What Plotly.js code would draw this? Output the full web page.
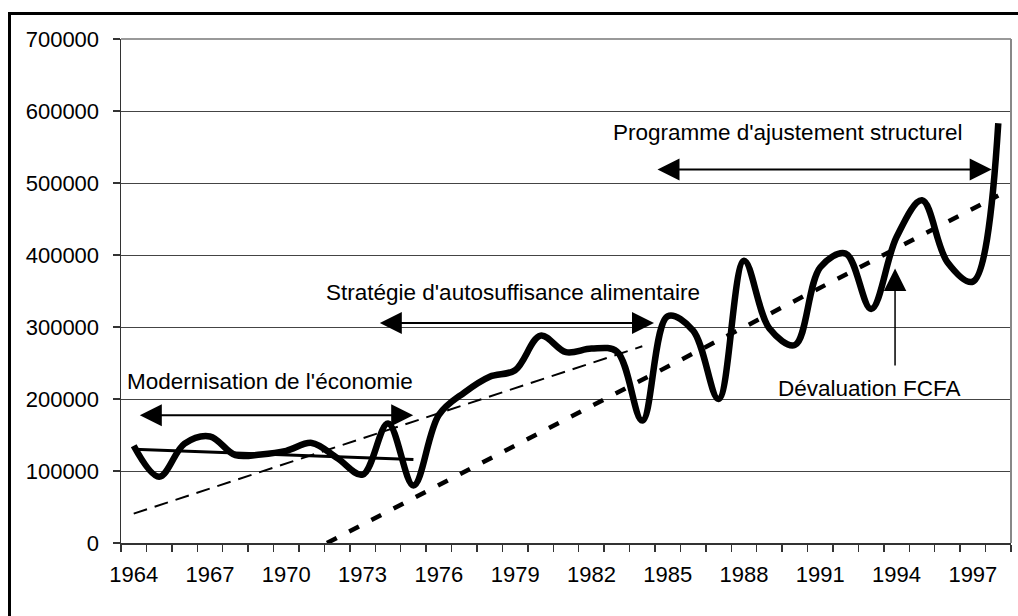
<!DOCTYPE html>
<html>
<head>
<meta charset="utf-8">
<script src="https://cdn.plot.ly/plotly-3.0.1.min.js"></script>
<style>
  html, body { margin: 0; padding: 0; background: #fff; overflow: hidden; }
  #wrap { position: relative; width: 1018px; height: 616px; }
  #chart { position: absolute; left: 0; top: 0; width: 1018px; height: 616px; }
  #frame { position: absolute; left: 8px; top: 12px; width: 1100px; height: 700px;
           border-left: 3px solid #000; border-top: 3px solid #000; pointer-events: none; }
</style>
</head>
<body>
<div id="wrap">
  <div id="chart"></div>
  <div id="frame"></div>
</div>
<script>
// ---- data ----
const years = [1964,1965,1966,1967,1968,1969,1970,1971,1972,1973,1974,1975,1976,1977,1978,1979,1980,1981,
               1982,1983,1984,1985,1986,1987,1988,1989,1990,1991,1992,1993,1994,1995,1996,1997,1998];
const production = [135000,92000,138000,148000,122000,123000,128000,139000,118000,95000,166000,80000,178000,209000,
                    231000,240000,288000,265000,270000,266000,170000,315000,295000,200000,392000,298000,275000,
                    383000,402000,325000,425000,476000,390000,363000,583000];

// trend lines (end points)
const trendModernYears = [1964, 1975];
const trendModernValues = [130100, 115800];
const trendAutoYears = [1964, 1984];
const trendAutoValues = [40800, 273200];
const trendPasYears = [1971.6, 1998];
const trendPasValues = [0, 482600];

const yTicks = [0,100000,200000,300000,400000,500000,600000,700000];
const xLabelYears = [1964,1967,1970,1973,1976,1979,1982,1985,1988,1991,1994,1997];

const FONT = '"Liberation Sans", Arial, Helvetica, sans-serif';

const traces = [
  { x: trendModernYears, y: trendModernValues, mode: 'lines',
    line: { color: '#000', width: 3 }, hoverinfo: 'skip' },
  { x: trendAutoYears, y: trendAutoValues, mode: 'lines',
    line: { color: '#000', width: 2, dash: '14px,8px' }, hoverinfo: 'skip' },
  { x: trendPasYears, y: trendPasValues, mode: 'lines',
    line: { color: '#000', width: 4.5, dash: '11px,14px' }, hoverinfo: 'skip' },
  { x: years, y: production, mode: 'lines',
    line: { color: '#000', width: 6.5, shape: 'spline', smoothing: 1 } }
];

function dblArrow(x0, x1, y) {
  return { x: x1, y: y, ax: x0, ay: y, xref: 'x', yref: 'y', axref: 'x', ayref: 'y',
           text: '', showarrow: true, arrowside: 'end+start', arrowhead: 2, startarrowhead: 2,
           arrowsize: 2.2, startarrowsize: 2.2, arrowwidth: 2, arrowcolor: '#000',
           standoff: 0, startstandoff: 0 };
}

const annFont = { family: FONT, size: 22.5, color: '#000' };

const layout = {
  width: 1018, height: 616,
  margin: { l: 121, r: 7, t: 38.5, b: 73.3, pad: 0 },
  paper_bgcolor: '#fff', plot_bgcolor: '#fff',
  showlegend: false,
  font: { family: FONT, size: 22, color: '#000' },
  xaxis: {
    range: [1963.5, 1998.5], fixedrange: true,
    tickmode: 'array', tickvals: xLabelYears, ticktext: xLabelYears.map(String),
    ticks: '', showgrid: false, zeroline: false,
    showline: true, linecolor: '#333', linewidth: 2,
    tickfont: { family: FONT, size: 22, color: '#000' },
    ticklabelstandoff: 11,
    minor: { tickmode: 'linear', tick0: 1963.5, dtick: 1, ticks: 'outside', ticklen: 7,
             tickcolor: '#333', tickwidth: 1.5, showgrid: false }
  },
  yaxis: {
    range: [0, 700000], fixedrange: true,
    tickmode: 'array', tickvals: yTicks, ticktext: yTicks.map(String),
    ticks: 'outside', ticklen: 7, tickcolor: '#333', tickwidth: 1.5,
    showgrid: true, gridcolor: '#444', gridwidth: 1, zeroline: false,
    showline: true, linecolor: '#333', linewidth: 1.5,
    tickfont: { family: FONT, size: 22, color: '#000' },
    ticklabelstandoff: 9
  },
  shapes: [
    { type: 'line', xref: 'paper', yref: 'paper', x0: 0, x1: 1, y0: 1, y1: 1,
      line: { color: '#999', width: 2 } },
    { type: 'line', xref: 'paper', yref: 'paper', x0: 1, x1: 1, y0: 0, y1: 1,
      line: { color: '#888', width: 2 } }
  ],
  annotations: [
    { x: 1969.34, y: 224600, xref: 'x', yref: 'y', text: "Modernisation de l'économie",
      showarrow: false, font: annFont, xanchor: 'center', yanchor: 'middle' },
    dblArrow(1964.18, 1974.99, 177400),
    { x: 1978.93, y: 348600, xref: 'x', yref: 'y', text: "Stratégie d'autosuffisance alimentaire",
      showarrow: false, font: annFont, xanchor: 'center', yanchor: 'middle' },
    dblArrow(1973.62, 1984.46, 305600),
    { x: 1989.73, y: 569700, xref: 'x', yref: 'y', text: "Programme d'ajustement structurel",
      showarrow: false, font: annFont, xanchor: 'center', yanchor: 'middle' },
    dblArrow(1984.54, 1997.74, 518600),
    { x: 1992.95, y: 214200, xref: 'x', yref: 'y', text: "Dévaluation FCFA",
      showarrow: false, font: annFont, xanchor: 'center', yanchor: 'middle' },
    { x: 1993.94, y: 381100, ax: 1993.94, ay: 244400, xref: 'x', yref: 'y', axref: 'x', ayref: 'y',
      text: '', showarrow: true, arrowhead: 2, arrowsize: 3, arrowwidth: 1.5, arrowcolor: '#000',
      standoff: 0 }
  ]
};

Plotly.newPlot('chart', traces, layout, { staticPlot: true, displayModeBar: false });
</script>
</body>
</html>
